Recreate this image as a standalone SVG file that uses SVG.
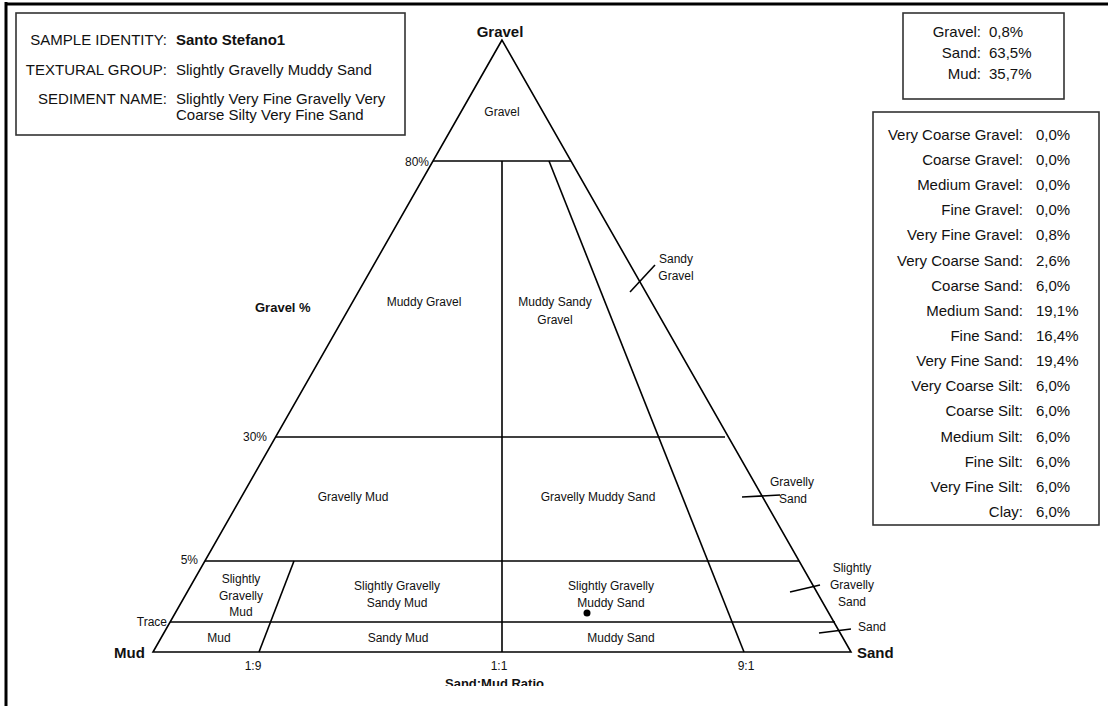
<svg xmlns="http://www.w3.org/2000/svg" width="1117" height="706" viewBox="0 0 1117 706">
<style>
text{font-family:"Liberation Sans",Arial,sans-serif;fill:#111}
.s{font-size:12px}
.c{text-anchor:middle}
.e{text-anchor:end}
.b{font-weight:bold}
.m{font-size:15px}
.ln{stroke:#000;stroke-width:1.6;fill:none}
.box{stroke:#333;stroke-width:1.6;fill:#fff}
</style>
<defs>
<clipPath id="clipBottom"><rect x="0" y="0" width="1117" height="686"/></clipPath>
</defs>
<rect width="1117" height="706" fill="#fff"/>
<g id="frame">
<line x1="6" y1="2" x2="6" y2="706" stroke="#000" stroke-width="3"/>
<line x1="5" y1="4" x2="1108" y2="4" stroke="#000" stroke-width="3"/>
</g>
<g id="sample-box">
<rect class="box" x="16" y="13" width="389" height="122"/>
<text class="m e" x="167" y="45">SAMPLE IDENTITY:</text>
<text class="m b" x="176" y="45">Santo Stefano1</text>
<text class="m e" x="167" y="75">TEXTURAL GROUP:</text>
<text class="m" x="176" y="75">Slightly Gravelly Muddy Sand</text>
<text class="m e" x="167" y="104">SEDIMENT NAME:</text>
<text class="m" x="176" y="104">Slightly Very Fine Gravelly Very</text>
<text class="m" x="176" y="120">Coarse Silty Very Fine Sand</text>
</g>
<g id="summary-box">
<rect class="box" x="903" y="13" width="161" height="86"/>
<text class="m e" x="981" y="37">Gravel:</text><text class="m" x="989" y="37">0,8%</text>
<text class="m e" x="981" y="58">Sand:</text><text class="m" x="989" y="58">63,5%</text>
<text class="m e" x="981" y="79">Mud:</text><text class="m" x="989" y="79">35,7%</text>
</g>
<g id="fractions-box">
<rect class="box" x="873" y="112" width="226" height="413"/>
<text class="m e" x="1023" y="140">Very Coarse Gravel:</text><text class="m" x="1036" y="140">0,0%</text>
<text class="m e" x="1023" y="165">Coarse Gravel:</text><text class="m" x="1036" y="165">0,0%</text>
<text class="m e" x="1023" y="190">Medium Gravel:</text><text class="m" x="1036" y="190">0,0%</text>
<text class="m e" x="1023" y="215">Fine Gravel:</text><text class="m" x="1036" y="215">0,0%</text>
<text class="m e" x="1023" y="240">Very Fine Gravel:</text><text class="m" x="1036" y="240">0,8%</text>
<text class="m e" x="1023" y="266">Very Coarse Sand:</text><text class="m" x="1036" y="266">2,6%</text>
<text class="m e" x="1023" y="291">Coarse Sand:</text><text class="m" x="1036" y="291">6,0%</text>
<text class="m e" x="1023" y="316">Medium Sand:</text><text class="m" x="1036" y="316">19,1%</text>
<text class="m e" x="1023" y="341">Fine Sand:</text><text class="m" x="1036" y="341">16,4%</text>
<text class="m e" x="1023" y="366">Very Fine Sand:</text><text class="m" x="1036" y="366">19,4%</text>
<text class="m e" x="1023" y="391">Very Coarse Silt:</text><text class="m" x="1036" y="391">6,0%</text>
<text class="m e" x="1023" y="416">Coarse Silt:</text><text class="m" x="1036" y="416">6,0%</text>
<text class="m e" x="1023" y="442">Medium Silt:</text><text class="m" x="1036" y="442">6,0%</text>
<text class="m e" x="1023" y="467">Fine Silt:</text><text class="m" x="1036" y="467">6,0%</text>
<text class="m e" x="1023" y="492">Very Fine Silt:</text><text class="m" x="1036" y="492">6,0%</text>
<text class="m e" x="1023" y="517">Clay:</text><text class="m" x="1036" y="517">6,0%</text>
</g>
<g id="connectors">
<polygon class="ln" points="502,40 153,652 851,652"/>
<line class="ln" x1="433" y1="161" x2="571" y2="161"/>
<line class="ln" x1="276" y1="437" x2="725" y2="437"/>
<line class="ln" x1="205" y1="561" x2="799" y2="561"/>
<line class="ln" x1="170" y1="622" x2="835" y2="622"/>
<line class="ln" x1="502" y1="161" x2="502" y2="652"/>
<line class="ln" x1="549" y1="161" x2="744" y2="652"/>
<line class="ln" x1="294" y1="561" x2="259" y2="652"/>
<line class="ln" x1="630" y1="292" x2="655" y2="265"/>
<line class="ln" x1="742" y1="497" x2="780" y2="495"/>
<line class="ln" x1="790" y1="592" x2="820" y2="585"/>
<line class="ln" x1="819" y1="633" x2="851" y2="629"/>
</g>
<g id="sample-point"><circle cx="587" cy="613" r="3.5" fill="#000"/></g>
<g id="vertex-labels">
<text class="b c" style="font-size:15px" x="500" y="37">Gravel</text>
<text class="b" style="font-size:15px" x="114" y="658">Mud</text>
<text class="b" style="font-size:15px" x="857" y="658">Sand</text>
<text class="b" style="font-size:13px" x="255" y="312">Gravel %</text>
<text class="b" style="font-size:13px" x="445" y="688" clip-path="url(#clipBottom)">Sand:Mud Ratio</text>
</g>
<g id="axis-labels">
<text class="s e" x="429" y="166">80%</text>
<text class="s e" x="267" y="441">30%</text>
<text class="s e" x="198" y="564">5%</text>
<text class="s e" x="167" y="626">Trace</text>
<text class="s c" x="253" y="670">1:9</text>
<text class="s c" x="499" y="670">1:1</text>
<text class="s c" x="746" y="670">9:1</text>
</g>
<g id="field-labels">
<text class="s c" x="502" y="116">Gravel</text>
<text class="s c" x="424" y="306">Muddy Gravel</text>
<text class="s c" x="555" y="306">Muddy Sandy</text>
<text class="s c" x="555" y="324">Gravel</text>
<text class="s c" x="676" y="263">Sandy</text>
<text class="s c" x="676" y="280">Gravel</text>
<text class="s c" x="353" y="501">Gravelly Mud</text>
<text class="s c" x="598" y="501">Gravelly Muddy Sand</text>
<text class="s c" x="792" y="486">Gravelly</text>
<text class="s c" x="793" y="503">Sand</text>
<text class="s c" x="241" y="583">Slightly</text>
<text class="s c" x="241" y="600">Gravelly</text>
<text class="s c" x="241" y="616">Mud</text>
<text class="s c" x="397" y="590">Slightly Gravelly</text>
<text class="s c" x="397" y="607">Sandy Mud</text>
<text class="s c" x="611" y="590">Slightly Gravelly</text>
<text class="s c" x="611" y="607">Muddy Sand</text>
<text class="s c" x="852" y="572">Slightly</text>
<text class="s c" x="852" y="589">Gravelly</text>
<text class="s c" x="852" y="606">Sand</text>
<text class="s c" x="872" y="631">Sand</text>
<text class="s c" x="219" y="642">Mud</text>
<text class="s c" x="398" y="642">Sandy Mud</text>
<text class="s c" x="621" y="642">Muddy Sand</text>
</g>
</svg>
